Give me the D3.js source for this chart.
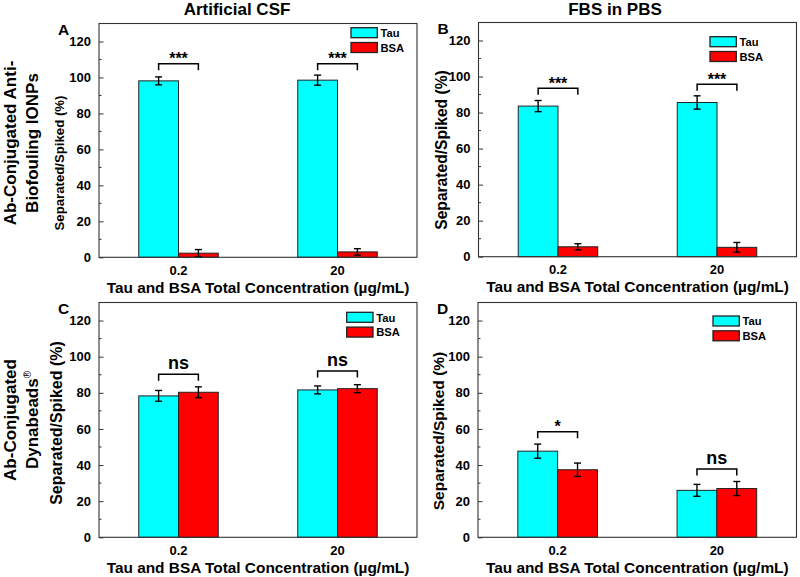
<!DOCTYPE html>
<html>
<head>
<meta charset="utf-8">
<script src="https://cdn.jsdelivr.net/npm/d3@7"></script>
<style>
  html, body { margin: 0; padding: 0; background: #fff; }
  svg { display: block; font-family: "Liberation Sans", Arial, sans-serif; font-weight: bold; }
</style>
</head>
<body>
<svg id="chart" width="800" height="577"></svg>
<script>
// ---------- data ----------
const categories = ["0.2", "20"];
const seriesNames = ["Tau", "BSA"];
const yTicks = [0, 20, 40, 60, 80, 100, 120];

const tauA = [98.1, 98.5], tauErrA = [2.2, 2.8];
const bsaA = [2.3, 3.0],   bsaErrA = [2.0, 1.8];
const sigA = ["***", "***"], sigYA = [107.6, 107.6];

const tauB = [83.6, 85.6], tauErrB = [3.1, 3.7];
const bsaB = [5.5, 5.2],   bsaErrB = [1.7, 2.7];
const sigB = ["***", "***"], sigYB = [93.5, 95.7];

const tauC = [78.3, 81.6], tauErrC = [3.0, 2.2];
const bsaC = [80.3, 82.3], bsaErrC = [3.0, 2.2];
const sigC = ["ns", "ns"], sigYC = [90.3, 92.1];

const tauD = [47.7, 26.0], tauErrD = [3.9, 3.3];
const bsaD = [37.4, 27.0], bsaErrD = [3.7, 3.9];
const sigD = ["*", "ns"], sigYD = [58.5, 37.8];

const colTitles = ["Artificial CSF", "FBS in PBS"];
const xTitle = "Tau and BSA Total Concentration (\u00B5g/mL)";
const yTitle = "Separated/Spiked (%)";

// ---------- layout (styles only) ----------
const colors = { Tau: "#00FFFF", BSA: "#FF0000" };
const panels = [
  { id: "A", tau: tauA, tauErr: tauErrA, bsa: bsaA, bsaErr: bsaErrA, sig: sigA, sigY: sigYA,
    box: [99, 23.5, 417, 257.3], leg: [351, 27.7], yl: { x: 64, y: 163, fs: 13.2 } },
  { id: "B", tau: tauB, tauErr: tauErrB, bsa: bsaB, bsaErr: bsaErrB, sig: sigB, sigY: sigYB,
    box: [478.5, 22.5, 796.5, 256.7], leg: [710, 36.7], yl: { x: 447, y: 150, fs: 15.6 } },
  { id: "C", tau: tauC, tauErr: tauErrC, bsa: bsaC, bsaErr: bsaErrC, sig: sigC, sigY: sigYC,
    box: [99, 302.5, 417, 537.3], leg: [346.7, 312.3], yl: { x: 62, y: 423, fs: 16 } },
  { id: "D", tau: tauD, tauErr: tauErrD, bsa: bsaD, bsaErr: bsaErrD, sig: sigD, sigY: sigYD,
    box: [478, 302.5, 796.5, 537.3], leg: [713, 316], yl: { x: 444, y: 431, fs: 15.5 } }
];

const svg = d3.select("#chart");

// column titles
svg.append("text").attr("x", 237).attr("y", 15).attr("text-anchor", "middle")
  .attr("font-size", 17).text(colTitles[0]);
svg.append("text").attr("x", 615).attr("y", 15).attr("text-anchor", "middle")
  .attr("font-size", 17).text(colTitles[1]);

// row titles
function rowTitle(lines, cy, sup) {
  const g = svg.append("g").attr("transform", `translate(0,${cy}) rotate(-90)`);
  lines.forEach((ln, i) => {
    const t = g.append("text").attr("x", 0).attr("y", 16 + i * 22)
      .attr("text-anchor", "middle").attr("font-size", 17);
    t.append("tspan").text(ln);
    if (sup && i === lines.length - 1) {
      t.append("tspan").attr("dy", -7).attr("font-size", 10).attr("font-weight", "normal").text(sup);
    }
  });
}
rowTitle(["Ab-Conjugated Anti-", "Biofouling IONPs"], 143, null);
rowTitle(["Ab-Conjugated", "Dynabeads"], 420, "\u00AE");

panels.forEach(p => {
  const [L, T, R, B] = p.box;
  const x = d3.scaleBand().domain(categories).range([L, R]).paddingInner(0.5).paddingOuter(0.25);
  const xs = d3.scaleBand().domain(seriesNames).range([0, x.bandwidth()]);
  const y = d3.scaleLinear().domain([0, 130]).range([B, T]);
  const g = svg.append("g");

  const rows = categories.map((c, i) => ({
    cat: c,
    vals: [
      { s: "Tau", v: p.tau[i], e: p.tauErr[i] },
      { s: "BSA", v: p.bsa[i], e: p.bsaErr[i] }
    ]
  }));

  // bars
  const grp = g.selectAll(".grp").data(rows).enter().append("g")
    .attr("transform", d => `translate(${x(d.cat)},0)`);
  grp.selectAll("rect").data(d => d.vals).enter().append("rect")
    .attr("x", d => xs(d.s)).attr("width", xs.bandwidth())
    .attr("y", d => y(d.v)).attr("height", d => y(0) - y(d.v))
    .attr("fill", d => colors[d.s]).attr("stroke", "#222").attr("stroke-width", 1);

  // error bars
  const eb = grp.selectAll(".eb").data(d => d.vals).enter().append("g");
  eb.append("line")
    .attr("x1", d => xs(d.s) + xs.bandwidth() / 2).attr("x2", d => xs(d.s) + xs.bandwidth() / 2)
    .attr("y1", d => y(d.v - d.e)).attr("y2", d => y(d.v + d.e))
    .attr("stroke", "#000").attr("stroke-width", 1.4);
  ["lo", "hi"].forEach(k => {
    eb.append("line")
      .attr("x1", d => xs(d.s) + xs.bandwidth() / 2 - 3.5).attr("x2", d => xs(d.s) + xs.bandwidth() / 2 + 3.5)
      .attr("y1", d => y(k === "lo" ? d.v - d.e : d.v + d.e))
      .attr("y2", d => y(k === "lo" ? d.v - d.e : d.v + d.e))
      .attr("stroke", "#000").attr("stroke-width", 1.4);
  });

  // significance brackets
  categories.forEach((c, i) => {
    const x1 = x(c) + xs("Tau") + xs.bandwidth() / 2;
    const x2 = x(c) + xs("BSA") + xs.bandwidth() / 2;
    const yy = y(p.sigY[i]);
    g.append("path")
      .attr("d", `M${x1},${yy + 6.5}V${yy}H${x2}V${yy + 6.5}`)
      .attr("fill", "none").attr("stroke", "#000").attr("stroke-width", 1.5);
    const isNs = p.sig[i] === "ns";
    g.append("text").attr("x", (x1 + x2) / 2).attr("y", isNs ? yy - 5 : yy + 0.5)
      .attr("text-anchor", "middle").attr("font-size", isNs ? 18 : 16).text(p.sig[i]);
  });

  // frame
  g.append("rect").attr("x", L).attr("y", T).attr("width", R - L).attr("height", B - T)
    .attr("fill", "none").attr("stroke", "#333").attr("stroke-width", 1.1);

  // y axis (inward ticks)
  const yAxis = d3.axisLeft(y).tickValues(yTicks).tickSize(-4.5).tickPadding(8).tickFormat(d3.format("d"));
  const ya = g.append("g").attr("transform", `translate(${L},0)`).call(yAxis);
  ya.select(".domain").remove();
  ya.selectAll("line").attr("stroke", "#333");
  ya.selectAll("text").attr("font-size", 13).attr("font-weight", "bold").attr("fill", "#000")
    .attr("font-family", "Liberation Sans, Arial, sans-serif");
  // minor ticks
  const minor = d3.range(10, 130, 20);
  g.selectAll(".minor").data(minor).enter().append("line")
    .attr("x1", L).attr("x2", L + 2.5).attr("y1", d => y(d)).attr("y2", d => y(d))
    .attr("stroke", "#333").attr("stroke-width", 1);

  // x axis labels
  const xAxis = d3.axisBottom(x).tickSize(0).tickPadding(8);
  const xa = g.append("g").attr("transform", `translate(0,${B})`).call(xAxis);
  xa.select(".domain").remove();
  xa.selectAll("text").attr("font-size", 13).attr("font-weight", "bold").attr("fill", "#000")
    .attr("font-family", "Liberation Sans, Arial, sans-serif");

  // x title
  g.append("text").attr("x", (L + R) / 2).attr("y", B + 35.5).attr("text-anchor", "middle")
    .attr("font-size", 15.4).text(xTitle);

  // y title
  g.append("text").attr("transform", `translate(${p.yl.x},${p.yl.y}) rotate(-90)`)
    .attr("text-anchor", "middle").attr("font-size", p.yl.fs).text(yTitle);

  // panel letter
  g.append("text").attr("x", L - 41).attr("y", T + 11.5).attr("font-size", 15.5).text(p.id);

  // legend
  seriesNames.forEach((s, i) => {
    const lx = p.leg[0], ly = p.leg[1] + i * 14.8;
    g.append("rect").attr("x", lx).attr("y", ly).attr("width", 26.3).attr("height", 10)
      .attr("fill", colors[s]).attr("stroke", "#222").attr("stroke-width", 1.3);
    g.append("text").attr("x", lx + 29.5).attr("y", ly + 9.3).attr("font-size", 11.2).text(s);
  });
});
</script>
</body>
</html>
